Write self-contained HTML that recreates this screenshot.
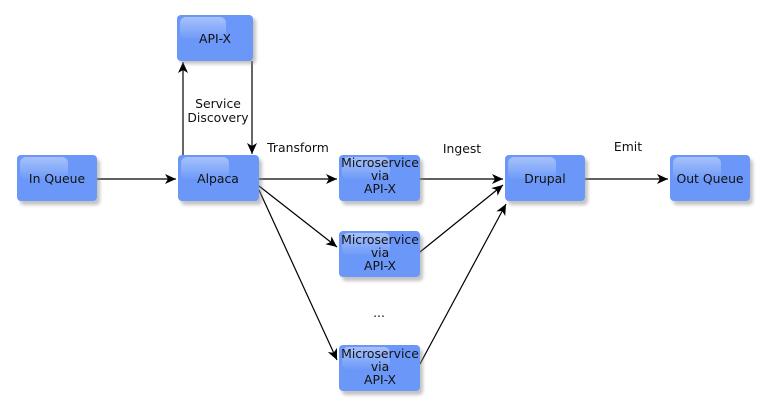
<!DOCTYPE html>
<html><head><meta charset="utf-8"><style>
html,body{margin:0;padding:0;background:#fff;width:767px;height:408px;overflow:hidden}
svg{display:block}
text{font-family:"DejaVu Sans","Liberation Sans",sans-serif;font-size:12.4px;fill:#111}
</style></head><body>
<svg width="767" height="408" viewBox="0 0 767 408">
<defs>
<marker id="a" markerWidth="12" markerHeight="10" refX="11" refY="5" orient="auto" markerUnits="userSpaceOnUse">
<path d="M0,0 L11,5 L0,10 L3,5 Z" fill="#000"/></marker>
<linearGradient id="g" x1="0" y1="0" x2="0" y2="1">
<stop offset="0" stop-color="#ffffff" stop-opacity="0.4"/><stop offset="1" stop-color="#ffffff" stop-opacity="0.03"/></linearGradient>
<filter id="s" x="-20%" y="-20%" width="150%" height="150%"><feGaussianBlur stdDeviation="1.5"/></filter>
</defs>
<g fill="none" stroke="#000" stroke-width="1.2">
<line x1="97" y1="179" x2="176" y2="179" marker-end="url(#a)"/>
<line x1="183" y1="155" x2="183" y2="62" marker-end="url(#a)"/>
<line x1="252" y1="61" x2="252" y2="154" marker-end="url(#a)"/>
<line x1="259" y1="179" x2="337" y2="179" marker-end="url(#a)"/>
<line x1="259" y1="186" x2="337" y2="247" marker-end="url(#a)"/>
<line x1="259" y1="190" x2="337" y2="360" marker-end="url(#a)"/>
<line x1="420" y1="179" x2="503" y2="179" marker-end="url(#a)"/>
<line x1="420" y1="252" x2="503" y2="185" marker-end="url(#a)"/>
<line x1="420" y1="364" x2="506" y2="204" marker-end="url(#a)"/>
<line x1="585" y1="179" x2="668" y2="179" marker-end="url(#a)"/>
</g>
<g>
<rect x="180" y="18" width="76" height="46" rx="4" fill="#888" opacity="0.5" filter="url(#s)"/>
<rect x="177" y="15" width="76" height="46" rx="4" fill="#6b98f8"/>
<rect x="180" y="17" width="46" height="22" rx="6" fill="url(#g)"/>
<text x="215" y="43" text-anchor="middle">API-X</text>

<rect x="20" y="159" width="80" height="46" rx="4" fill="#888" opacity="0.5" filter="url(#s)"/>
<rect x="17" y="155" width="80" height="46" rx="4" fill="#6b98f8"/>
<rect x="20" y="157" width="48" height="22" rx="6" fill="url(#g)"/>
<text x="57" y="183" text-anchor="middle">In Queue</text>

<rect x="181" y="159" width="81" height="46" rx="4" fill="#888" opacity="0.5" filter="url(#s)"/>
<rect x="178" y="155" width="81" height="46" rx="4" fill="#6b98f8"/>
<rect x="181" y="157" width="48" height="22" rx="6" fill="url(#g)"/>
<text x="218" y="183" text-anchor="middle">Alpaca</text>

<rect x="342" y="159" width="81" height="46" rx="4" fill="#888" opacity="0.5" filter="url(#s)"/>
<rect x="339" y="155" width="81" height="46" rx="4" fill="#6b98f8"/>
<rect x="342" y="157" width="48" height="22" rx="6" fill="url(#g)"/>
<text x="380" y="167" text-anchor="middle">Microservice</text>
<text x="380" y="180" text-anchor="middle">via</text>
<text x="380" y="193" text-anchor="middle">API-X</text>

<rect x="342" y="235" width="81" height="46" rx="4" fill="#888" opacity="0.5" filter="url(#s)"/>
<rect x="339" y="231" width="81" height="46" rx="4" fill="#6b98f8"/>
<rect x="342" y="233" width="48" height="22" rx="6" fill="url(#g)"/>
<text x="380" y="244" text-anchor="middle">Microservice</text>
<text x="380" y="257" text-anchor="middle">via</text>
<text x="380" y="270" text-anchor="middle">API-X</text>

<rect x="342" y="349" width="81" height="46" rx="4" fill="#888" opacity="0.5" filter="url(#s)"/>
<rect x="339" y="345" width="81" height="46" rx="4" fill="#6b98f8"/>
<rect x="342" y="347" width="48" height="22" rx="6" fill="url(#g)"/>
<text x="380" y="358" text-anchor="middle">Microservice</text>
<text x="380" y="371" text-anchor="middle">via</text>
<text x="380" y="384" text-anchor="middle">API-X</text>

<rect x="508" y="159" width="80" height="46" rx="4" fill="#888" opacity="0.5" filter="url(#s)"/>
<rect x="505" y="155" width="80" height="46" rx="4" fill="#6b98f8"/>
<rect x="508" y="157" width="48" height="22" rx="6" fill="url(#g)"/>
<text x="545" y="183" text-anchor="middle">Drupal</text>

<rect x="673" y="159" width="80" height="46" rx="4" fill="#888" opacity="0.5" filter="url(#s)"/>
<rect x="670" y="155" width="80" height="46" rx="4" fill="#6b98f8"/>
<rect x="673" y="157" width="48" height="22" rx="6" fill="url(#g)"/>
<text x="710" y="183" text-anchor="middle">Out Queue</text>
</g>
<text x="218" y="108" text-anchor="middle">Service</text>
<text x="218" y="122" text-anchor="middle">Discovery</text>
<text x="298" y="152" text-anchor="middle">Transform</text>
<text x="462" y="153" text-anchor="middle">Ingest</text>
<text x="628" y="151" text-anchor="middle">Emit</text>
<text x="379" y="317" text-anchor="middle">...</text>
</svg>
</body></html>
